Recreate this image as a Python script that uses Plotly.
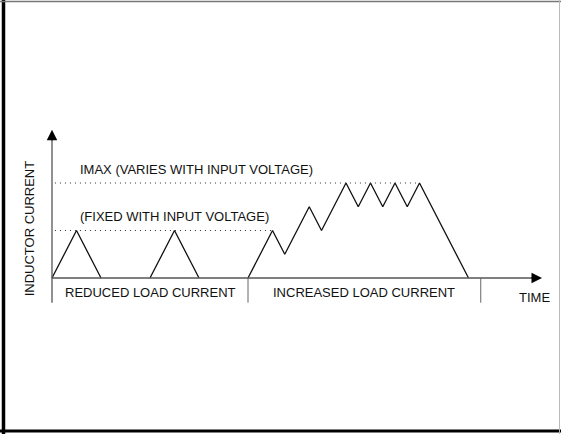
import plotly.graph_objects as go

# Inductor current waveforms (time in switching half-periods, current in units of the fixed peak)
reduced_t = [[0, 1, 2], [4, 5, 6]]
reduced_i = [[0, 1, 0], [0, 1, 0]]

increased_t = [8, 9, 9.5, 10.5, 11, 12, 12.5, 13, 13.5, 14, 14.5, 15, 17]
increased_i = [0, 1, 0.5, 1.5, 1, 2, 1.5, 2, 1.5, 2, 1.5, 2, 0]

FIXED_PEAK = 1.0
IMAX = 2.0
REGION_BOUNDS = [0, 8, 17.5]
REGION_LABELS = ["REDUCED LOAD CURRENT", "INCREASED LOAD CURRENT"]

TIME_END = 20.0      # x-axis arrow tip
CURRENT_TOP = 3.12   # y-axis arrow tip
BELOW = -0.52        # bottom of the region dividers

W, H = 561, 434
X0_PX, PX_PER_T = 52, 24.5
Y0_PX, PX_PER_I = 278, 47.5

x_range = [(0 - X0_PX) / PX_PER_T, (W - X0_PX) / PX_PER_T]
y_range = [(Y0_PX - H) / PX_PER_I, Y0_PX / PX_PER_I]

FONT = "Liberation Sans, Arial, Helvetica, sans-serif"
INK = "#111111"

fig = go.Figure()

line_style = dict(color=INK, width=1.3)
for t, i in zip(reduced_t, reduced_i):
    fig.add_trace(go.Scatter(x=t, y=i, mode="lines", line=line_style,
                             hoverinfo="skip", showlegend=False))
fig.add_trace(go.Scatter(x=increased_t, y=increased_i, mode="lines", line=line_style,
                         hoverinfo="skip", showlegend=False))

shapes = []
# dotted reference levels, ending at the last peak that reaches each level
imax_end = max(t for t, i in zip(increased_t, increased_i) if i == IMAX)
fixed_end = increased_t[increased_i.index(FIXED_PEAK)]
for level, end in [(IMAX, imax_end), (FIXED_PEAK, fixed_end)]:
    shapes.append(dict(type="line", xref="x", yref="y", x0=0.12, x1=end, y0=level, y1=level,
                       line=dict(color="#333333", width=1.1, dash="1px,4px")))

# axes
shapes.append(dict(type="line", xref="x", yref="y", x0=0, x1=0, y0=BELOW, y1=CURRENT_TOP - 0.1,
                   line=dict(color="#555555", width=1.3)))
shapes.append(dict(type="line", xref="x", yref="y", x0=0, x1=TIME_END - 0.2, y0=0, y1=0,
                   line=dict(color="#555555", width=1.3)))
# region dividers
for b in REGION_BOUNDS[1:]:
    shapes.append(dict(type="line", xref="x", yref="y", x0=b, x1=b, y0=0, y1=BELOW,
                       line=dict(color="#666666", width=1)))

# frame
shapes += [
    dict(type="line", xref="paper", yref="paper", x0=3.5 / W, x1=3.5 / W, y0=0, y1=1,
         line=dict(color="#000000", width=3.5)),
    dict(type="line", xref="paper", yref="paper", x0=0, x1=1, y0=1 - 431 / H, y1=1 - 431 / H,
         line=dict(color="#000000", width=3)),
    dict(type="line", xref="paper", yref="paper", x0=0, x1=1, y0=1 - 1.5 / H, y1=1 - 1.5 / H,
         line=dict(color="#777777", width=1.5)),
    dict(type="line", xref="paper", yref="paper", x0=559.5 / W, x1=559.5 / W, y0=0, y1=1,
         line=dict(color="#bbbbbb", width=1)),
]

txt = dict(family=FONT, size=13, color=INK)
annotations = [
    dict(x=1.06, y=IMAX, xref="x", yref="y", text="IMAX (VARIES WITH INPUT VOLTAGE)",
         showarrow=False, xanchor="left", yanchor="bottom", yshift=4, font=txt),
    dict(x=1.06, y=FIXED_PEAK, xref="x", yref="y", text="(FIXED WITH INPUT VOLTAGE)",
         showarrow=False, xanchor="left", yanchor="bottom", yshift=5, font=txt),
    dict(x=TIME_END - 0.3, y=-0.4, xref="x", yref="y", text="TIME",
         showarrow=False, xanchor="center", yanchor="middle", font=txt),
    dict(x=-0.93, y=1.05, xref="x", yref="y", text="INDUCTOR CURRENT", textangle=-90,
         showarrow=False, xanchor="center", yanchor="middle", font=txt),
    # arrow heads
    dict(x=0, y=CURRENT_TOP, xref="x", yref="y", ax=0, ay=12, axref="pixel", ayref="pixel",
         showarrow=True, arrowhead=2, arrowsize=1.4, arrowwidth=1.5, arrowcolor="#000000",
         standoff=0, text=""),
    dict(x=TIME_END, y=0, xref="x", yref="y", ax=-12, ay=0, showarrow=True, arrowhead=2,
         arrowsize=1.4, arrowwidth=1.5, arrowcolor="#000000", standoff=0, text=""),
]
for (a, b), label in zip(zip(REGION_BOUNDS[:-1], REGION_BOUNDS[1:]), REGION_LABELS):
    annotations.append(dict(x=(a + b) / 2, y=-0.31, xref="x", yref="y", text=label,
                            showarrow=False, xanchor="center", yanchor="middle", font=txt))

fig.update_layout(
    width=W, height=H, autosize=False,
    margin=dict(l=0, r=0, t=0, b=0),
    paper_bgcolor="white", plot_bgcolor="white",
    xaxis=dict(range=x_range, visible=False, fixedrange=True),
    yaxis=dict(range=y_range, visible=False, fixedrange=True),
    shapes=shapes, annotations=annotations,
    showlegend=False,
)

fig.write_html("out.html")
